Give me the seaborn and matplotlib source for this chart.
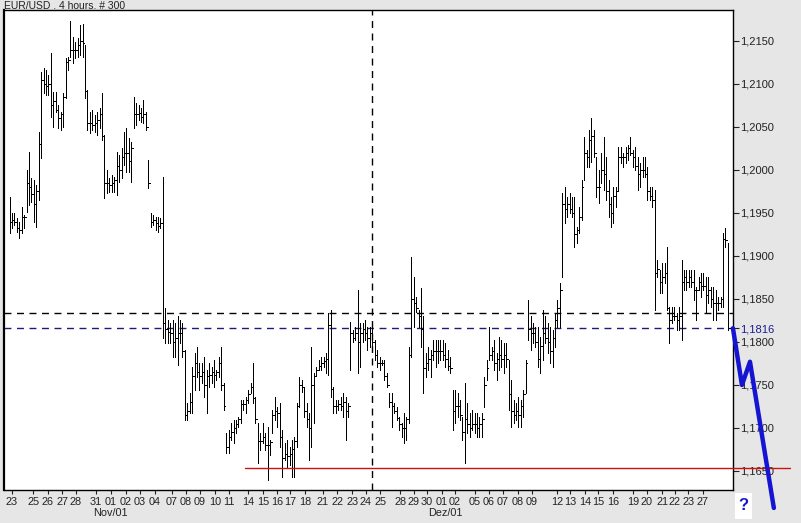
import matplotlib
matplotlib.use("Agg")
import matplotlib.pyplot as plt
import numpy as np
import seaborn as sns

# ---------------- data (EUR/USD, 4-hour bars) ----------------
highs = [
 1.1969,1.1950,1.1950,1.1944,1.1940,1.1957,1.1948,1.2000,1.2021,1.1991,
 1.1988,1.1983,1.2044,1.2114,1.2119,1.2116,1.2110,1.2136,1.2091,1.2091,
 1.2076,1.2067,1.2090,1.2130,1.2131,1.2173,1.2155,1.2149,1.2153,1.2169,
 1.2170,1.2145,1.2093,1.2067,1.2070,1.2064,1.2067,1.2072,1.2090,1.2041,
 1.2000,1.1991,1.1994,1.1992,1.2021,1.2017,1.2026,1.2044,1.2049,1.2037,
 1.2033,1.2085,1.2078,1.2076,1.2072,1.2081,1.2067,1.2012,1.1950,1.1948,
 1.1945,1.1945,1.1944,1.1992,1.1840,1.1826,1.1822,1.1826,1.1822,1.1830,
 1.1826,1.1822,1.1791,1.1729,1.1741,1.1771,1.1787,1.1794,1.1776,1.1776,
 1.1783,1.1767,1.1776,1.1771,1.1779,1.1767,1.1783,1.1794,1.1752,1.1694,
 1.1698,1.1706,1.1709,1.1709,1.1713,1.1733,1.1733,1.1736,1.1744,1.1752,
 1.1776,1.1736,1.1706,1.1694,1.1706,1.1694,1.1701,1.1686,1.1721,1.1736,
 1.1724,1.1729,1.1698,1.1683,1.1686,1.1678,1.1686,1.1690,1.1729,1.1759,
 1.1756,1.1748,1.1729,1.1717,1.1794,1.1764,1.1771,1.1779,1.1783,1.1783,
 1.1787,1.1834,1.1837,1.1748,1.1733,1.1733,1.1736,1.1741,1.1736,1.1729,
 1.1823,1.1814,1.1817,1.1860,1.1822,1.1822,1.1826,1.1817,1.1817,1.1822,
 1.1802,1.1791,1.1783,1.1779,1.1779,1.1764,1.1741,1.1741,1.1729,1.1724,
 1.1713,1.1706,1.1717,1.1713,1.1794,1.1899,1.1876,1.1852,1.1837,1.1863,
 1.1830,1.1787,1.1794,1.1791,1.1802,1.1802,1.1802,1.1802,1.1802,1.1799,
 1.1791,1.1783,1.1744,1.1744,1.1741,1.1733,1.1713,1.1752,1.1729,1.1717,
 1.1721,1.1717,1.1717,1.1713,1.1717,1.1759,1.1779,1.1817,1.1794,1.1802,
 1.1787,1.1806,1.1802,1.1799,1.1799,1.1779,1.1756,1.1733,1.1729,1.1736,
 1.1733,1.1744,1.1779,1.1849,1.1830,1.1822,1.1817,1.1817,1.1806,1.1837,
 1.1830,1.1822,1.1817,1.1814,1.1834,1.1849,1.1869,1.1973,1.1980,1.1969,
 1.1973,1.1969,1.1969,1.1934,1.1957,1.1988,1.2038,1.2023,1.2047,1.2060,
 1.2047,1.2015,1.2000,1.2020,1.2038,1.2015,1.1988,1.1969,1.1980,1.1980,
 1.2027,1.2027,1.2020,1.2027,1.2029,1.2038,1.2023,1.2027,1.2015,1.2008,
 1.2015,1.2015,1.2003,1.1980,1.1980,1.1977,1.1895,1.1884,1.1892,1.1892,
 1.1910,1.1841,1.1841,1.1841,1.1834,1.1841,1.1895,1.1884,1.1884,1.1884,
 1.1884,1.1884,1.1864,1.1876,1.1880,1.1880,1.1876,1.1876,1.1864,1.1864,
 1.1860,1.1852,1.1852,1.1927,1.1933,1.1915]

lows = [
 1.1927,1.1933,1.1936,1.1928,1.1921,1.1927,1.1933,1.1951,1.1959,1.1963,
 1.1940,1.1934,1.1965,1.2014,1.2090,1.2087,1.2087,1.2062,1.2050,1.2067,
 1.2049,1.2047,1.2050,1.2084,1.2116,1.2131,1.2124,1.2130,1.2131,1.2134,
 1.2131,1.2084,1.2047,1.2043,1.2047,1.2044,1.2041,1.2049,1.2035,1.1967,
 1.1973,1.1974,1.1974,1.1974,1.1971,1.1986,1.1991,1.2006,1.1998,1.1998,
 1.1986,1.2049,1.2052,1.2058,1.2056,1.2055,1.2047,1.1979,1.1934,1.1936,
 1.1930,1.1928,1.1933,1.1805,1.1799,1.1799,1.1799,1.1783,1.1783,1.1773,
 1.1799,1.1783,1.1709,1.1709,1.1717,1.1717,1.1744,1.1759,1.1744,1.1752,
 1.1736,1.1717,1.1748,1.1752,1.1748,1.1756,1.1759,1.1744,1.1721,1.1671,
 1.1671,1.1686,1.1683,1.1694,1.1701,1.1706,1.1721,1.1717,1.1729,1.1741,
 1.1729,1.1706,1.1659,1.1674,1.1683,1.1674,1.1640,1.1669,1.1694,1.1709,
 1.1701,1.1678,1.1643,1.1663,1.1655,1.1657,1.1643,1.1643,1.1678,1.1724,
 1.1742,1.1713,1.1701,1.1663,1.1678,1.1706,1.1762,1.1767,1.1767,1.1771,
 1.1764,1.1762,1.1736,1.1717,1.1717,1.1721,1.1721,1.1713,1.1686,1.1713,
 1.1767,1.1800,1.1802,1.1764,1.1771,1.1800,1.1802,1.1791,1.1794,1.1791,
 1.1779,1.1771,1.1767,1.1773,1.1756,1.1748,1.1724,1.1701,1.1717,1.1709,
 1.1698,1.1690,1.1683,1.1686,1.1706,1.1783,1.1817,1.1835,1.1817,1.1794,
 1.1741,1.1759,1.1767,1.1759,1.1779,1.1771,1.1776,1.1779,1.1779,1.1771,
 1.1767,1.1764,1.1698,1.1706,1.1713,1.1709,1.1686,1.1659,1.1694,1.1690,
 1.1698,1.1694,1.1690,1.1690,1.1690,1.1724,1.1756,1.1779,1.1779,1.1767,
 1.1756,1.1767,1.1771,1.1764,1.1771,1.1721,1.1701,1.1706,1.1709,1.1701,
 1.1701,1.1713,1.1741,1.1802,1.1791,1.1799,1.1794,1.1771,1.1764,1.1779,
 1.1799,1.1787,1.1776,1.1771,1.1794,1.1817,1.1817,1.1876,1.1938,1.1945,
 1.1950,1.1945,1.1910,1.1915,1.1927,1.1942,1.1988,1.2003,1.2003,1.2009,
 1.2015,1.1969,1.1962,1.1985,1.1977,1.1965,1.1945,1.1934,1.1938,1.1957,
 1.1977,1.2008,1.2003,1.2008,1.2012,1.2017,1.2003,1.2000,1.1977,1.1980,
 1.1992,1.1992,1.1965,1.1965,1.1957,1.1837,1.1876,1.1857,1.1857,1.1869,
 1.1837,1.1799,1.1822,1.1826,1.1814,1.1814,1.1802,1.1860,1.1860,1.1864,
 1.1864,1.1849,1.1826,1.1860,1.1852,1.1860,1.1834,1.1845,1.1841,1.1826,
 1.1826,1.1837,1.1841,1.1841,1.1910,1.1814]

closes = [
 1.1940,1.1942,1.1940,1.1932,1.1930,1.1945,1.1945,1.1985,1.1980,1.1972,
 1.1960,1.1975,1.2030,1.2105,1.2100,1.2098,1.2100,1.2075,1.2080,1.2070,
 1.2060,1.2065,1.2085,1.2125,1.2128,1.2140,1.2140,1.2140,1.2145,1.2150,
 1.2148,1.2092,1.2055,1.2055,1.2052,1.2055,1.2058,1.2065,1.2040,1.1985,
 1.1985,1.1982,1.1985,1.1988,1.2005,1.2000,1.2015,1.2020,1.2020,1.2010,
 1.2025,1.2065,1.2065,1.2066,1.2062,1.2065,1.2050,1.1985,1.1940,1.1942,
 1.1938,1.1935,1.1938,1.1822,1.1815,1.1812,1.1810,1.1800,1.1805,1.1810,
 1.1810,1.1790,1.1715,1.1720,1.1730,1.1760,1.1775,1.1765,1.1760,1.1765,
 1.1750,1.1760,1.1762,1.1765,1.1762,1.1765,1.1775,1.1750,1.1725,1.1678,
 1.1690,1.1695,1.1700,1.1705,1.1710,1.1728,1.1728,1.1732,1.1740,1.1748,
 1.1735,1.1710,1.1685,1.1685,1.1690,1.1680,1.1680,1.1684,1.1715,1.1720,
 1.1718,1.1690,1.1665,1.1670,1.1668,1.1670,1.1675,1.1685,1.1725,1.1750,
 1.1748,1.1720,1.1710,1.1700,1.1750,1.1760,1.1768,1.1772,1.1775,1.1778,
 1.1780,1.1820,1.1745,1.1725,1.1725,1.1728,1.1725,1.1730,1.1720,1.1725,
 1.1810,1.1805,1.1810,1.1800,1.1810,1.1815,1.1810,1.1805,1.1810,1.1800,
 1.1785,1.1775,1.1775,1.1775,1.1760,1.1750,1.1730,1.1725,1.1720,1.1712,
 1.1705,1.1700,1.1700,1.1710,1.1785,1.1850,1.1845,1.1840,1.1830,1.1815,
 1.1770,1.1775,1.1780,1.1785,1.1790,1.1790,1.1790,1.1790,1.1785,1.1780,
 1.1772,1.1770,1.1720,1.1725,1.1725,1.1715,1.1695,1.1710,1.1705,1.1700,
 1.1705,1.1705,1.1700,1.1705,1.1710,1.1750,1.1770,1.1785,1.1790,1.1775,
 1.1780,1.1785,1.1780,1.1785,1.1780,1.1740,1.1720,1.1715,1.1720,1.1715,
 1.1725,1.1740,1.1775,1.1815,1.1810,1.1810,1.1800,1.1780,1.1795,1.1810,
 1.1805,1.1800,1.1790,1.1805,1.1825,1.1840,1.1860,1.1960,1.1955,1.1960,
 1.1955,1.1950,1.1925,1.1930,1.1945,1.1980,1.2020,1.2015,1.2035,1.2040,
 1.2020,1.1980,1.1980,1.2000,1.1995,1.1975,1.1960,1.1950,1.1970,1.1975,
 1.2015,1.2015,1.2015,1.2020,1.2025,1.2020,1.2015,1.2005,1.1995,1.2000,
 1.2000,1.1995,1.1975,1.1970,1.1965,1.1880,1.1885,1.1870,1.1875,1.1880,
 1.1840,1.1825,1.1830,1.1830,1.1825,1.1830,1.1870,1.1875,1.1870,1.1875,
 1.1870,1.1860,1.1860,1.1870,1.1865,1.1865,1.1855,1.1860,1.1850,1.1845,
 1.1845,1.1845,1.1850,1.1920,1.1918,1.1816]

# day labels and the bar each one sits under
day_labels = ["23","25","26","27","28","31","01","02","03","04",
              "07","08","09","10","11","14","15","16","17","18",
              "21","22","23","24","25","28","29","30","01","02",
              "05","06","07","08","09","12","13","14","15","16",
              "19","20","21","22","23","27"]
day_bars = [1.0, 9.7, 15.8, 21.6, 27.3, 35.5, 41.7, 47.8, 53.6, 59.8,
            66.7, 72.5, 78.2, 84.4, 90.1, 97.9, 104.1, 109.9, 115.2, 121.4,
            128.7, 134.5, 140.7, 146.4, 152.2, 160.4, 166.1, 171.5, 177.6, 182.9,
            191.2, 196.9, 202.7, 208.8, 214.5, 224.8, 230.2, 236.4, 241.7, 247.9,
            256.1, 261.8, 268.0, 273.3, 278.7, 284.8]
month_labels = ["Nov/01", "Dez/01"]
month_bars = [41.3, 178.9]

price_ticks = [1.2150, 1.2100, 1.2050, 1.2000, 1.1950, 1.1900, 1.1850,
               1.1816, 1.1800, 1.1750, 1.1700, 1.1650]

resistance_level = 1.18337      # black dashed
current_level = 1.1816          # blue dashed
support_level = 1.16535         # red line
support_start_bar = 96.7
support_end_bar = 320.5
marker_bar = 148.9              # vertical dashed line

forecast_bars = [297.1, 300.8, 304.1, 313.9]
forecast_prices = [1.1816, 1.1750, 1.1777, 1.1607]

# ---------------- style ----------------
sns.set_theme(style="white")
plt.rcParams["font.family"] = ["Liberation Sans", "DejaVu Sans"]

BG = "#e6e6e6"
W, H = 801, 523
fig = plt.figure(figsize=(W / 100, H / 100), dpi=100, facecolor=BG)
ax = fig.add_axes([4 / W, 33 / H, 729 / W, 480 / H])
ax.set_facecolor("white")

x = np.arange(len(highs))
ax.vlines(x, lows, highs, colors="black", linewidth=0.72, antialiased=False, zorder=2)
ax.hlines(closes, x, x + 0.7, colors="black", linewidth=0.72, antialiased=False, zorder=2)

xmin = -2.26
ax.set_xlim(xmin, xmin + 729 / 2.435)
ax.set_ylim(1.16279, 1.21860)

# reference lines
ax.axhline(resistance_level, color="black", lw=1.0, ls=(0, (5, 4)), zorder=1.5)
ax.axhline(current_level, color="#1c1c78", lw=1.0, ls=(0, (5, 4)), zorder=1.5)
ax.axvline(marker_bar, color="black", lw=1.0, ls=(0, (5, 4)), zorder=1.5)
ax.plot([support_start_bar, support_end_bar], [support_level, support_level],
        color="#d01010", lw=1.0, clip_on=False, zorder=4)

# forecast path
sns.lineplot(x=forecast_bars, y=forecast_prices, ax=ax, color="#1414d2",
             linewidth=3.2, sort=False, clip_on=False, zorder=5)

# axes styling
for s in ax.spines.values():
    s.set_color("black")
    s.set_linewidth(1.0)
ax.spines["left"].set_linewidth(1.6)

ax.yaxis.tick_right()
ax.set_yticks(price_ticks)
ax.set_yticklabels([f"{v:.4f}".replace(".", ",") for v in price_ticks])
ax.tick_params(axis="y", right=True, left=False, length=4, width=0.8,
               pad=1, labelsize=8, colors="#222222", direction="out")
for lbl, v in zip(ax.get_yticklabels(), price_ticks):
    if abs(v - current_level) < 1e-6:
        lbl.set_color("#1c1c90")

ax.set_xticks(day_bars)
ax.set_xticklabels(day_labels)
ax.tick_params(axis="x", bottom=True, length=3, width=0.8, pad=2,
               labelsize=7.8, colors="#222222", direction="out")
ax.set_xlabel("")
ax.set_ylabel("")
ax.grid(False)

for lab, b in zip(month_labels, month_bars):
    ax.text(b, -0.048, lab, transform=ax.get_xaxis_transform(), ha="center",
            va="center", fontsize=7.8, color="#222222")

fig.text(4 / W, 1 - 6 / H, "EUR/USD . 4 hours. # 300", ha="left", va="center",
         fontsize=7.5, color="#222222")

# "?" box
box = plt.Rectangle((735 / W, 1 - 519 / H), 17 / W, 26 / H, transform=fig.transFigure,
                    facecolor="white", edgecolor="none", zorder=6)
fig.patches.append(box)
fig.text(743.5 / W, 1 - 506 / H, "?", ha="center", va="center", fontsize=12,
         fontweight="bold", color="#1414d2", zorder=7)

fig.savefig("out.png", dpi=100, facecolor=BG)
